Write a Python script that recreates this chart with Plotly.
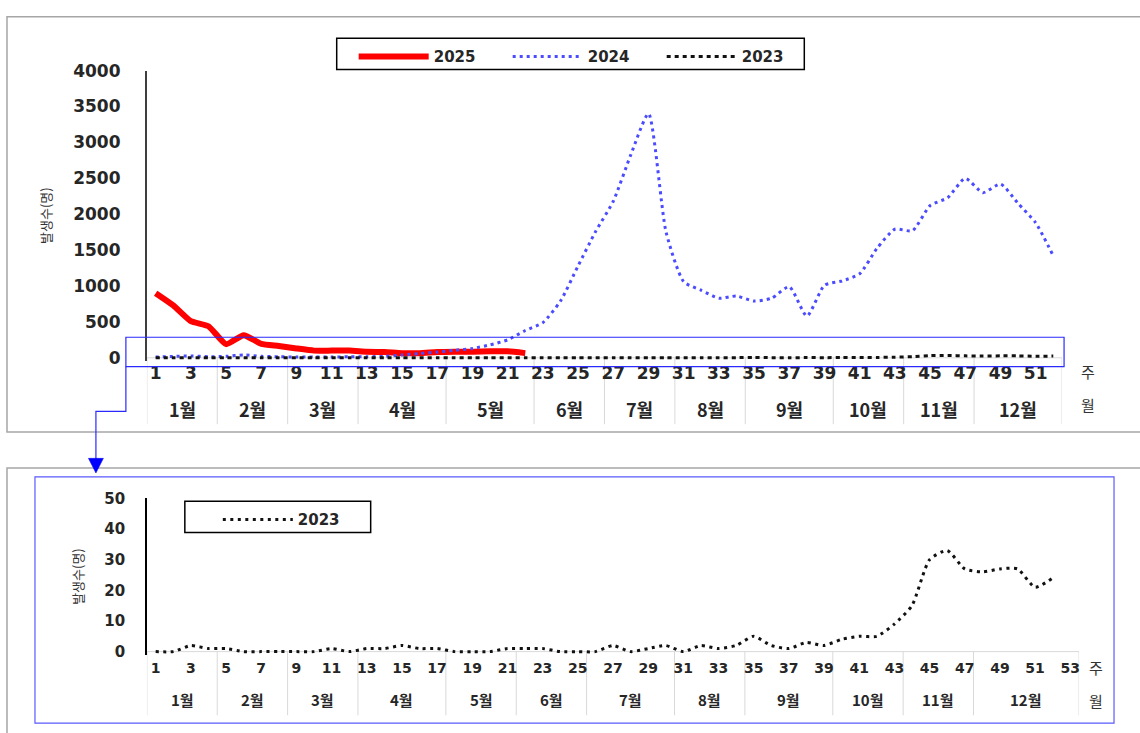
import plotly.graph_objects as go

W, H = 1140, 733

# ---------------- data ----------------
weeks_top = list(range(1, 53))
weeks_bottom = list(range(1, 54))
tick_weeks_top = list(range(1, 53, 2))
tick_weeks_bottom = list(range(1, 54, 2))

cases_2025 = [900, 730, 510, 440, 190, 315, 195, 165, 130, 100, 100, 100, 85, 80,
              65, 65, 80, 85, 85, 90, 90, 65]
cases_2024 = [10, 20, 25, 15, 20, 40, 20, 15, 10, 10, 10, 15, 15, 20, 40,
              60, 80, 105, 130, 180, 250, 380,
              490, 790, 1280, 1760, 2180, 2830, 3400, 1750,
              1060, 940, 830, 860, 790, 830, 990, 580, 1010, 1070,
              1170, 1530, 1790, 1770, 2120, 2230, 2500, 2300, 2420, 2150, 1880, 1420]
cases_2023 = [0, 0, 2, 1, 1, 0, 0, 0, 0, 0,
              1, 0, 1, 1, 2, 1, 1, 0, 0, 0,
              1, 1, 1, 0, 0, 0, 2, 0, 1, 2,
              0, 2, 1, 2, 5, 2, 1, 3, 2, 4,
              5, 5, 9, 15, 30, 33, 27, 26, 27, 27,
              21, 24]

month_labels = ["1월", "2월", "3월", "4월", "5월", "6월", "7월", "8월", "9월", "10월", "11월", "12월"]
month_last_week_top = [4, 8, 12, 17, 22, 26, 30, 34, 39, 43, 47, 52]
month_last_week_bottom = [4, 8, 12, 17, 21, 25, 30, 34, 39, 43, 47, 53]

y_title = "발생수(명)"
week_label = "주"
month_label = "월"

# ---------------- helpers ----------------
def px(x):
    return x / W

def py(y):
    return 1 - y / H

FONT = "DejaVu Sans, Noto Sans CJK KR, sans-serif"
KFONT = "Noto Sans CJK KR, DejaVu Sans, sans-serif"
TXT = "#262626"

fig = go.Figure()

fig.add_trace(go.Scatter(
    x=weeks_top[:len(cases_2025)], y=cases_2025, name="2025", mode="lines",
    line=dict(color="#ff0000", width=6, shape="spline", smoothing=0.5),
    xaxis="x", yaxis="y", legend="legend"))
fig.add_trace(go.Scatter(
    x=weeks_top, y=cases_2024, name="2024", mode="lines",
    line=dict(color="#4b4bff", width=3, dash="3px,4px", shape="spline", smoothing=0.6),
    xaxis="x", yaxis="y", legend="legend"))
fig.add_trace(go.Scatter(
    x=weeks_top[:len(cases_2023)], y=cases_2023, name="2023", mode="lines",
    line=dict(color="#111111", width=3, dash="4px,4px", shape="spline", smoothing=0.6),
    xaxis="x", yaxis="y", legend="legend"))
fig.add_trace(go.Scatter(
    x=weeks_bottom[:len(cases_2023)], y=cases_2023, name="2023", mode="lines",
    line=dict(color="#111111", width=3, dash="3px,4.5px", shape="spline", smoothing=0.6),
    xaxis="x2", yaxis="y2", legend="legend2"))

shapes = []
annotations = []

# panel frames
shapes.append(dict(type="rect", xref="paper", yref="paper", x0=px(7), x1=px(1160), y0=py(432), y1=py(7),
                   line=dict(color="#a6a6a6", width=1.5), layer="below"))
shapes.append(dict(type="rect", xref="paper", yref="paper", x0=px(7), x1=px(1160), y0=py(760), y1=py(469),
                   line=dict(color="#a6a6a6", width=1.5), layer="below"))
shapes.append(dict(type="rect", xref="paper", yref="paper", x0=px(35), x1=px(1115), y0=py(730), y1=py(478),
                   line=dict(color="#5a5aff", width=1.2), layer="below"))
# highlight box and connector arrow
shapes.append(dict(type="rect", xref="paper", yref="paper", x0=px(126), x1=px(1065), y0=py(365), y1=py(335),
                   line=dict(color="#2a2aff", width=1.2)))
shapes.append(dict(type="path", xref="paper", yref="paper",
                   path=f"M{px(126)},{py(365)} L{px(126)},{py(411)} L{px(96)},{py(411)} L{px(96)},{py(460)}",
                   line=dict(color="#2a2aff", width=1.2)))
shapes.append(dict(type="path", xref="paper", yref="paper",
                   path=f"M{px(88.5)},{py(459)} L{px(103.5)},{py(459)} L{px(96)},{py(474)} Z",
                   line=dict(color="#0000ff", width=0.5), fillcolor="#0000ff"))
# legend boxes
shapes.append(dict(type="rect", xref="paper", yref="paper", x0=px(337), x1=px(805), y0=py(61), y1=py(29),
                   line=dict(color="#000000", width=1.5)))
shapes.append(dict(type="rect", xref="paper", yref="paper", x0=px(185), x1=px(371), y0=py(535), y1=py(503),
                   line=dict(color="#000000", width=1.5)))

# zero lines
shapes.append(dict(type="line", xref="x domain", yref="y", x0=0, x1=1, y0=0, y1=0,
                   line=dict(color="#d9d9d9", width=1), layer="below"))
shapes.append(dict(type="line", xref="x2 domain", yref="y2", x0=0, x1=1, y0=0, y1=0,
                   line=dict(color="#d9d9d9", width=1), layer="below"))

def month_axis(xref, last_weeks, y_top, y_bot, y_lab, size):
    prev = 0
    bounds = [0.5] + [w + 0.5 for w in last_weeks]
    for b in bounds:
        shapes.append(dict(type="line", xref=xref, yref="paper", x0=b, x1=b, y0=py(y_top), y1=py(y_bot),
                           line=dict(color="#d9d9d9", width=1), layer="below"))
    for lab, lw in zip(month_labels, last_weeks):
        annotations.append(dict(xref=xref, yref="paper", x=(prev + 1 + lw) / 2, y=py(y_lab),
                                text=lab, showarrow=False, xanchor="center", yanchor="middle",
                                font=dict(family=KFONT, size=size, color=TXT, weight="bold")))
        prev = lw

month_axis("x", month_last_week_top, 356, 424, 408, 18)
month_axis("x2", month_last_week_bottom, 657, 722, 706, 15)

for (xx, yy, txt) in [(1089, 370, week_label), (1089, 404, month_label),
                      (1097, 673, week_label), (1097, 707, month_label)]:
    annotations.append(dict(xref="paper", yref="paper", x=px(xx), y=py(yy), text=txt, showarrow=False,
                            xanchor="center", yanchor="middle",
                            font=dict(family=KFONT, size=15, color="#333333")))

axis_common = dict(showgrid=False, zeroline=False, ticks="", fixedrange=True)

fig.update_layout(
    width=W, height=H,
    margin=dict(l=0, r=0, t=0, b=0),
    paper_bgcolor="white", plot_bgcolor="rgba(0,0,0,0)",
    font=dict(family=FONT, color=TXT),
    xaxis=dict(domain=[px(147), px(1063)], range=[0.5, 52.5], tickmode="array",
               tickvals=tick_weeks_top, ticktext=[str(v) for v in tick_weeks_top],
               showline=False, anchor="y",
               tickfont=dict(family=FONT, size=17, color=TXT, weight="bold"), **axis_common),
    yaxis=dict(domain=[py(359), py(62)], range=[-40, 4000], tickmode="array",
               tickvals=list(range(0, 4001, 500)), showline=True, linecolor="#3f3f3f", linewidth=2,
               anchor="x", ticklabelstandoff=21,
               tickfont=dict(family=FONT, size=17, color=TXT, weight="bold"),
               title=dict(text=y_title, standoff=19, font=dict(family=KFONT, size=13, color="#333333")),
               **axis_common),
    xaxis2=dict(domain=[px(147), px(1080)], range=[0.5, 53.5], tickmode="array",
                tickvals=tick_weeks_bottom, ticktext=[str(v) for v in tick_weeks_bottom],
                showline=False, anchor="y2", ticklabelstandoff=3,
                tickfont=dict(family=FONT, size=14, color=TXT, weight="bold"), **axis_common),
    yaxis2=dict(domain=[py(660), py(500)], range=[-1, 50], tickmode="array",
                tickvals=list(range(0, 51, 10)), showline=True, linecolor="#000000", linewidth=1.5,
                anchor="x2", ticklabelstandoff=17,
                tickfont=dict(family=FONT, size=15, color=TXT, weight="bold"),
                title=dict(text=y_title, standoff=18, font=dict(family=KFONT, size=13, color="#333333")),
                **axis_common),
    legend=dict(orientation="h", x=px(354), y=py(31), xanchor="left", yanchor="top",
                bgcolor="rgba(0,0,0,0)", borderwidth=0, itemwidth=70, entrywidth=69,
                font=dict(family=FONT, size=15, color=TXT, weight="bold")),
    legend2=dict(orientation="h", x=px(218), y=py(505), xanchor="left", yanchor="top",
                 bgcolor="rgba(0,0,0,0)", borderwidth=0, itemwidth=70,
                 font=dict(family=FONT, size=15, color=TXT, weight="bold")),
    shapes=shapes,
    annotations=annotations,
    showlegend=True,
)

post = """
document.body.style.margin='0px';
document.body.style.padding='0px';
document.body.style.overflow='hidden';
"""

fig.write_html("out.html", post_script=post, config={"displayModeBar": False})
